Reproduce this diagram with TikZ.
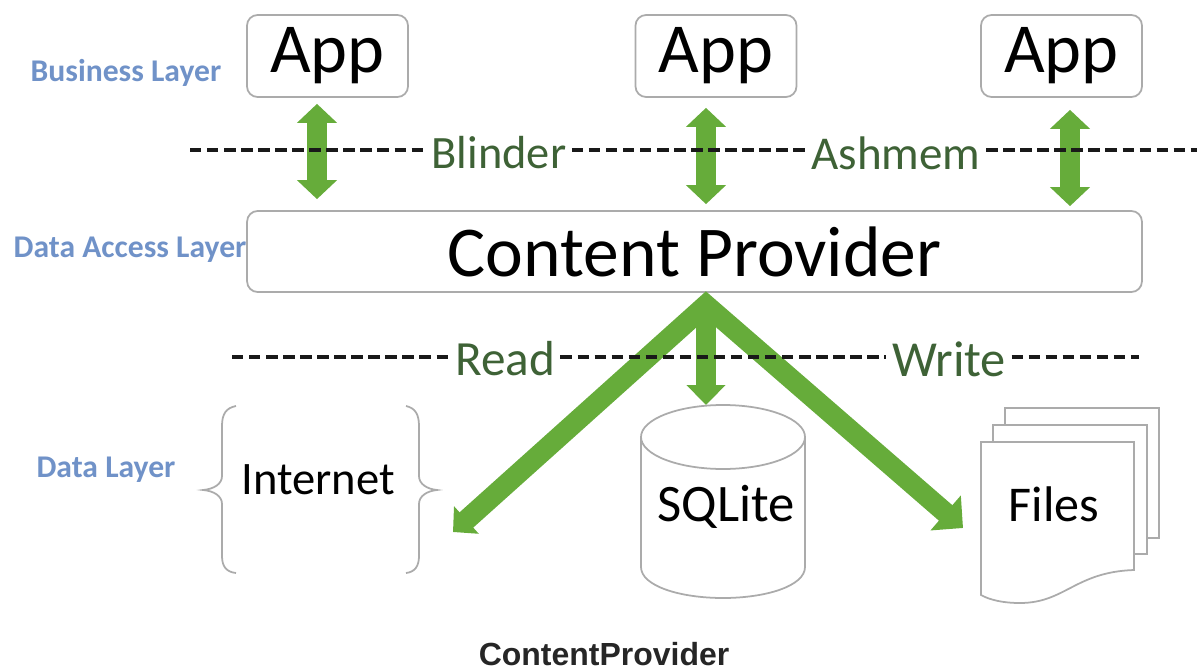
\documentclass[tikz,border=0pt]{standalone}
\usepackage{fontspec}
\setmainfont{Carlito}
\newfontfamily\captionfont{Liberation Sans}
\usetikzlibrary{arrows.meta}
\definecolor{arrowgreen}{HTML}{66AC3A}
\definecolor{layerblue}{HTML}{7092C8}
\definecolor{labelgreen}{HTML}{3E6236}
\definecolor{edgegray}{HTML}{ABABAB}
\tikzset{
  box/.style={draw=edgegray,line width=1pt,rounded corners=6pt,inner sep=0pt},
  sketch/.style={draw=edgegray,line width=1pt},
  layer/.style={text=layerblue,font=\bfseries\fontsize{18}{20}\selectfont,inner sep=0pt},
  cut/.style={dash pattern=on 6.5pt off 3.2pt,line width=2.1pt,black!90},
  cutlabel/.style={text=labelgreen,inner xsep=3pt,inner ysep=0pt},
  appbox/.style={box,minimum width=3.22cm,minimum height=1.64cm,font=\fontsize{40}{44}\selectfont},
  updown/.style={draw=arrowgreen,line width=0.4cm,{Triangle[width=0.78cm,length=0.38cm]}-{Triangle[width=0.78cm,length=0.38cm]}},
  down/.style={draw=arrowgreen,line width=0.4cm,-{Triangle[width=0.76cm,length=0.4cm]}},
  fork/.style={draw=arrowgreen,line width=0.41cm,miter limit=10,{Triangle[width=0.72cm,length=0.36cm]}-{Triangle[width=0.9cm,length=0.46cm]}}
}
\begin{document}
\begin{tikzpicture}[x=0.02cm,y=-0.02cm]
\useasboundingbox (0,0) rectangle (1197,669);

% Layers
\node[layer] (business) at (126,73) {Business Layer};
\node[layer] (access) at (130,250) {Data Access Layer};
\node[layer] (data) at (106,470) {Data Layer};

% Apps
\node[appbox] (app1) at (327.5,56) {App};
\node[appbox] (app2) at (716,56) {App};
\node[appbox] (app3) at (1061.5,56) {App};

% Content provider
\node[box,minimum width=17.9cm,minimum height=1.62cm,font=\fontsize{40.7}{44}\selectfont] (provider) at (694.5,251.5) {Content Provider};

% Arrows between apps and provider
\foreach \app/\dx/\gapa/\gapb in {app1/-0.21/0.12/0.22, app2/-0.2/0.2/0.12, app3/0.17/0.24/0.08} {
  \coordinate (\app foot) at ([xshift=\dx cm]\app.south);
  \draw[updown,shorten <=\gapa cm,shorten >=\gapb cm] (\app foot) -- (provider.north -| \app foot);
}

% Arrows to the data stores
\coordinate (apex) at (706,305);
\coordinate (webtip) at (453,532);
\coordinate (filetip) at (963,528);
\coordinate (sqlitetop) at (706,405);
\draw[down] (apex) -- (sqlitetop);
\draw[fork] (webtip) -- (apex) -- (filetip);

% Dashed lines and their labels
\coordinate (cutA) at (190,150);
\coordinate (cutB) at (1197,150);
\coordinate (cutC) at (232,357);
\coordinate (cutD) at (1139,357);
\node[cutlabel,font=\fontsize{26.4}{30}\selectfont] (blinder) at (499,153) {Blinder};
\node[cutlabel,font=\fontsize{26.8}{30}\selectfont] (ashmem) at (896,153) {Ashmem};
\node[cutlabel,font=\fontsize{28}{32}\selectfont] (read) at (505,359) {Read};
\node[cutlabel,font=\fontsize{28.7}{32}\selectfont] (write) at (949,359) {Write};
\draw[cut] (cutA) -- (cutA -| blinder.west);
\draw[cut] (cutA -| blinder.east) -- (cutA -| ashmem.west);
\draw[cut] (cutA -| ashmem.east) -- (cutB);
\draw[cut] (cutC) -- (cutC -| read.west);
\draw[cut] (cutC -| read.east) -- (cutC -| write.west);
\draw[cut] (cutC -| write.east) -- (cutD);

% Internet
\node[font=\fontsize{26.5}{30}\selectfont,inner sep=0pt] (internet) at (318,480) {Internet};
\draw[sketch] (236,406) .. controls (226,408) and (222,414) .. (222,426) -- (222,476) .. controls (222,484) and (214,489) .. (203,490) .. controls (214,491) and (222,496) .. (222,504) -- (222,556) .. controls (222,566) and (226,572) .. (236,573);
\draw[sketch] (406,406) .. controls (415,408) and (419,414) .. (419,426) -- (419,476) .. controls (419,484) and (427,489) .. (437,490) .. controls (427,491) and (419,496) .. (419,504) -- (419,556) .. controls (419,566) and (415,572) .. (406,573);

% SQLite
\draw[sketch] (641,438) -- (641,567) .. controls (641,586) and (680,598) .. (723,598) .. controls (766,598) and (805,586) .. (805,567) -- (805,438);
\draw[sketch] (723,437) ellipse (82 and 32);
\node[font=\fontsize{30}{33}\selectfont,inner sep=0pt] (sqlite) at (726,507) {SQLite};

% Files
\draw[sketch] (1005,425) -- (1005,408) -- (1159,408) -- (1159,538) -- (1147,538);
\draw[sketch] (993,442) -- (993,425) -- (1147,425) -- (1147,554) -- (1134,554);
\draw[sketch] (981,442) -- (1134,442) -- (1134,570) .. controls (1075,572) and (1065,603) .. (1020,603) .. controls (1003,603) and (990,600) .. (981,595) -- cycle;
\node[font=\fontsize{28.5}{32}\selectfont,inner sep=0pt] (files) at (1054,504) {Files};

% Caption
\node[text=black!85,font=\captionfont\bfseries\fontsize{18.2}{20}\selectfont,inner sep=0pt] (title) at (604,654) {ContentProvider};
\end{tikzpicture}
\end{document}
